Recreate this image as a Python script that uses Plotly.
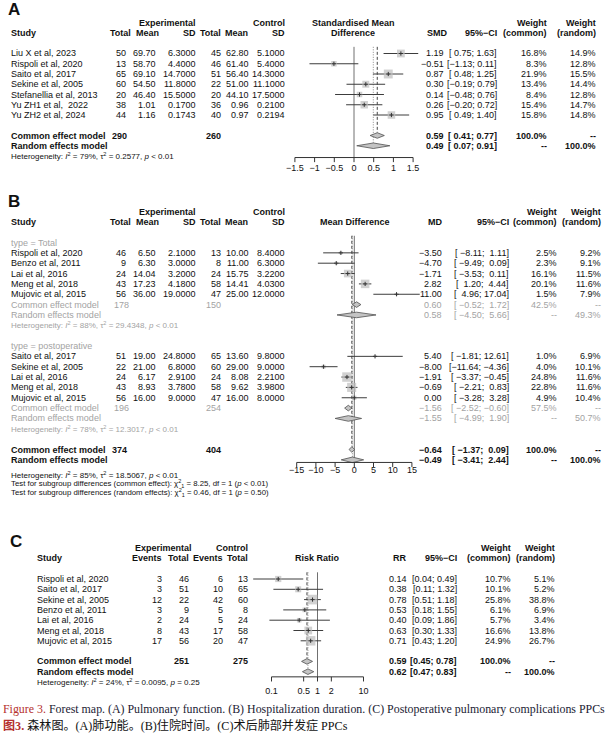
import math
import plotly.graph_objects as go

W, H = 611, 738
SANS = "Liberation Sans, Arial, Helvetica, sans-serif"
SERIF = "Liberation Serif, Times New Roman, Noto Sans CJK SC, serif"
GRAY = "#a3a3a3"
BLACK = "#111111"
MINUS = "\u2212"
NB = "\u00a0"

# ---------------- Panel A: pulmonary function (SMD) ----------------
A_studies = ["Liu X et al, 2023", "Rispoli et al, 2020", "Saito et al, 2017", "Sekine et al, 2005",
             "Stefanellia et al, 2013", "Yu ZH1 et al,  2022", "Yu ZH2 et al, 2024"]
A_n_e = [50, 13, 65, 60, 20, 38, 44]
A_mean_e = [69.70, 58.70, 69.10, 54.50, 46.40, 1.01, 1.16]
A_sd_e = [6.3000, 4.4000, 14.7000, 11.8000, 15.5000, 0.1700, 0.1743]
A_n_c = [45, 46, 51, 22, 20, 36, 40]
A_mean_c = [62.80, 61.40, 56.40, 51.00, 44.10, 0.96, 0.97]
A_sd_c = [5.1000, 5.4000, 14.3000, 11.1000, 17.5000, 0.2100, 0.2194]
A_est = [1.19, -0.51, 0.87, 0.30, 0.14, 0.26, 0.95]
A_lo = [0.75, -1.13, 0.48, -0.19, -0.48, -0.20, 0.49]
A_hi = [1.63, 0.11, 1.25, 0.79, 0.76, 0.72, 1.40]
A_wc = [16.8, 8.3, 21.9, 13.4, 8.4, 15.4, 15.8]
A_wr = [14.9, 12.8, 15.5, 14.4, 12.8, 14.7, 14.8]
A_common = [0.59, 0.41, 0.77]
A_random = [0.49, 0.07, 0.91]
A_totals = [290, 260]
A_het = ["79%", "0.2577", "&lt; 0.01"]
A_ticks = [-1.5, -1, -0.5, 0, 0.5, 1, 1.5]
A_ticklabels = ["\u22121.5", "\u22121", "\u22120.5", "0", "0.5", "1", "1.5"]

# ---------------- Panel B: hospitalization duration (MD) ----------------
B_group_labels = ["type = Total", "type = postoperative"]
B1_studies = ["Rispoli et al, 2020", "Benzo et al, 2011", "Lai et al, 2016", "Meng et al, 2018", "Mujovic et al, 2015"]
B1_n_e = [46, 9, 24, 43, 56]
B1_mean_e = [6.50, 6.30, 14.04, 17.23, 36.00]
B1_sd_e = [2.1000, 3.0000, 3.2000, 4.1800, 19.0000]
B1_n_c = [13, 8, 24, 58, 47]
B1_mean_c = [10.00, 11.00, 15.75, 14.41, 25.00]
B1_sd_c = [8.4000, 6.3000, 3.2200, 4.0300, 12.0000]
B1_est = [-3.50, -4.70, -1.71, 2.82, 11.00]
B1_lo = [-8.11, -9.49, -3.53, 1.20, 4.96]
B1_hi = [1.11, 0.09, 0.11, 4.44, 17.04]
B1_wc = [2.5, 2.3, 16.1, 20.1, 1.5]
B1_wr = [9.2, 9.1, 11.5, 11.6, 7.9]
B1_common = [0.60, -0.52, 1.72]
B1_random = [0.58, -4.50, 5.66]
B1_wsum = [42.5, 49.3]
B1_totals = [178, 150]
B1_het = ["88%", "29.4348", "&lt; 0.01"]

B2_studies = ["Saito et al, 2017", "Sekine et al, 2005", "Lai et al, 2016", "Meng et al, 2018", "Mujovic et al, 2015"]
B2_n_e = [51, 22, 24, 43, 56]
B2_mean_e = [19.00, 21.00, 6.17, 8.93, 16.00]
B2_sd_e = [24.8000, 6.8000, 2.9100, 3.7800, 9.0000]
B2_n_c = [65, 60, 24, 58, 47]
B2_mean_c = [13.60, 29.00, 8.08, 9.62, 16.00]
B2_sd_c = [9.8000, 9.0000, 2.2100, 3.9800, 8.0000]
B2_est = [5.40, -8.00, -1.91, -0.69, 0.00]
B2_lo = [-1.81, -11.64, -3.37, -2.21, -3.28]
B2_hi = [12.61, -4.36, -0.45, 0.83, 3.28]
B2_wc = [1.0, 4.0, 24.8, 22.8, 4.9]
B2_wr = [6.9, 10.1, 11.6, 11.6, 10.4]
B2_common = [-1.56, -2.52, -0.60]
B2_random = [-1.55, -4.99, 1.90]
B2_wsum = [57.5, 50.7]
B2_totals = [196, 254]
B2_het = ["78%", "12.3017", "&lt; 0.01"]

B_common = [-0.64, -1.37, 0.09]
B_random = [-0.49, -3.41, 2.44]
B_totals = [374, 404]
B_het = ["85%", "18.5067", "&lt; 0.01"]
B_test_common = ["8.25", "1", "&lt; 0.01"]
B_test_random = ["0.46", "1", "= 0.50"]
B_ticks = [-15, -10, -5, 0, 5, 10, 15]
B_ticklabels = ["\u221215", "\u221210", "\u22125", "0", "5", "10", "15"]

# ---------------- Panel C: postoperative pulmonary complications (RR) ----------------
C_studies = ["Rispoli et al, 2020", "Saito et al, 2017", "Sekine et al, 2005", "Benzo et al, 2011",
             "Lai et al, 2016", "Meng et al, 2018", "Mujovic et al, 2015"]
C_ev_e = [3, 3, 12, 3, 2, 8, 17]
C_n_e = [46, 51, 22, 9, 24, 43, 56]
C_ev_c = [6, 10, 42, 5, 5, 17, 20]
C_n_c = [13, 65, 60, 8, 24, 58, 47]
C_est = [0.14, 0.38, 0.78, 0.53, 0.40, 0.63, 0.71]
C_lo = [0.04, 0.11, 0.51, 0.18, 0.09, 0.30, 0.43]
C_hi = [0.49, 1.32, 1.18, 1.55, 1.86, 1.33, 1.20]
C_wc = [10.7, 10.1, 25.8, 6.1, 5.7, 16.6, 24.9]
C_wr = [5.1, 5.2, 38.8, 6.9, 3.4, 13.8, 26.7]
C_common = [0.59, 0.45, 0.78]
C_random = [0.62, 0.47, 0.83]
C_totals = [251, 275]
C_het = ["24%", "0.0095", "= 0.25"]
C_ticks = [0.1, 0.5, 1, 2, 10]
C_ticklabels = ["0.1", "0.5", "1", "2", "10"]

# ---------------- layout geometry (pixels) ----------------
GEO = {
    "A": dict(y0=53.5, dy=10.25, x0=354.0, sx=39.4, log=False),
    "B": dict(y0=242.5, dy=10.35, x0=354.3, sx=3.84, log=False),
    "C": dict(y0=579.0, dy=10.3, x0=317.5, sx=46.0, log=True),
}
AXES = {"A": ("x", "y"), "B": ("x2", "y2"), "C": ("x3", "y3")}

fig = go.Figure()
ann = []


def T(x, y, s, anchor="left", size=9, bold=False, color=BLACK, family=SANS):
    if bold:
        s = "<b>" + s + "</b>"
    ann.append(dict(x=x / W, y=1 - y / H, xref="paper", yref="paper", text=s, showarrow=False,
                    xanchor=anchor, yanchor="middle", borderpad=0,
                    font=dict(size=size, color=color, family=family)))


def ry(p, r):
    g = GEO[p]
    return g["y0"] + g["dy"] * r


def f(v, d):
    return f"{v:.{d}f}".replace("-", MINUS)


def ci_strings(los, his, d=2):
    ls = [f(v, d) for v in los]
    hs = [f(v, d) for v in his]
    wl = max(len(s) for s in ls)
    wh = max(len(s) for s in hs)
    return ["[" + NB * (wl - len(a)) + a + ";" + NB + NB * (wh - len(b)) + b + "]" for a, b in zip(ls, hs)]


def het_text(h):
    return ("Heterogeneity: <i>I</i><sup>2</sup> = " + h[0] + ", \u03c4<sup>2</sup> = " + h[1]
            + ", <i>p</i> " + h[2])


def add_forest(p, rows, est, lo, hi, w, diamonds, null, common_est, random_est, common_row, random_row,
               ticks, ticklabels, axis_row, label_row, top_row=-0.65):
    xa, ya = AXES[p]
    kw = dict(xaxis=xa, yaxis=ya, showlegend=False, hoverinfo="skip")
    # reference lines
    fig.add_trace(go.Scatter(x=[null, null], y=[top_row, axis_row], mode="lines",
                             line=dict(color="#707070", width=1), **kw))
    fig.add_trace(go.Scatter(x=[common_est, common_est], y=[top_row, common_row - 0.3], mode="lines",
                             line=dict(color="#444444", width=1, dash="3px,2px"), **kw))
    fig.add_trace(go.Scatter(x=[random_est, random_est], y=[top_row, random_row - 0.3], mode="lines",
                             line=dict(color="#8a8a8a", width=1, dash="1px,1.5px"), **kw))
    # confidence interval lines
    xs, ys = [], []
    for r, a, b in zip(rows, lo, hi):
        xs += [a, b, None]
        ys += [r, r, None]
    fig.add_trace(go.Scatter(x=xs, y=ys, mode="lines", line=dict(color="#3c3c3c", width=1), **kw))
    # weight squares
    fig.add_trace(go.Scatter(x=est, y=rows, mode="markers",
                             marker=dict(symbol="square", size=[1.9 * math.sqrt(v) for v in w],
                                         color="#bdbdbd", line=dict(width=0)), **kw))
    fig.add_trace(go.Scatter(x=est, y=rows, mode="markers",
                             marker=dict(symbol="cross-thin", size=3, line=dict(width=1, color="#333333")), **kw))
    # diamonds
    for (r, e, a, b) in diamonds:
        h = 0.27
        fig.add_trace(go.Scatter(x=[a, e, b, e, a], y=[r, r - h, r, r + h, r], mode="lines", fill="toself",
                                 fillcolor="#c4c4c4", line=dict(color="#505050", width=0.8), **kw))
    # axis
    fig.add_trace(go.Scatter(x=[ticks[0], ticks[-1]], y=[axis_row, axis_row], mode="lines",
                             line=dict(color="#333333", width=1), **kw))
    tx, ty = [], []
    for t in ticks:
        tx += [t, t, None]
        ty += [axis_row, axis_row + 0.45, None]
    fig.add_trace(go.Scatter(x=tx, y=ty, mode="lines", line=dict(color="#333333", width=1), **kw))
    fig.add_trace(go.Scatter(x=ticks, y=[label_row] * len(ticks), mode="text", text=ticklabels,
                             textposition="middle center", textfont=dict(size=9, family=SANS, color=BLACK),
                             **kw))


# ================= Panel A =================
T(7, 10, "A", size=17, bold=True)
T(167, 23, "Experimental", "center", bold=True)
T(286, 23, "Control", "right", bold=True)
T(353, 23, "Standardised Mean", "center", bold=True)
T(548, 23, "Weight", "right", bold=True)
T(597, 23, "Weight", "right", bold=True)
hy = 33.5
T(10, hy, "Study", bold=True)
for x, s in [(132, "Total"), (160, "Mean"), (197, "SD"), (222, "Total"), (249, "Mean"), (286, "SD"),
             (449, "SMD"), (498, "95%\u2212CI"), (548, "(common)"), (597, "(random)")]:
    T(x, hy, s, "right", bold=True)
T(353, hy, "Difference", "center", bold=True)

A_rows = list(range(len(A_studies)))
A_ci = ci_strings(A_lo + [A_common[1], A_random[1]], A_hi + [A_common[2], A_random[2]])
for i, r in enumerate(A_rows):
    y = ry("A", r)
    T(10, y, A_studies[i])
    T(127, y, str(A_n_e[i]), "right")
    T(157, y, f(A_mean_e[i], 2), "right")
    T(197, y, f(A_sd_e[i], 4), "right")
    T(222, y, str(A_n_c[i]), "right")
    T(250, y, f(A_mean_c[i], 2), "right")
    T(286, y, f(A_sd_c[i], 4), "right")
    T(445, y, f(A_est[i], 2), "right")
    T(498, y, A_ci[i], "right")
    T(548, y, f(A_wc[i], 1) + "%", "right")
    T(597, y, f(A_wr[i], 1) + "%", "right")
yc, yr = ry("A", 8), ry("A", 9)
T(10, yc, "Common effect model", bold=True)
T(128, yc, str(A_totals[0]), "right", bold=True)
T(222, yc, str(A_totals[1]), "right", bold=True)
T(445, yc, f(A_common[0], 2), "right", bold=True)
T(498, yc, A_ci[-2], "right", bold=True)
T(548, yc, "100.0%", "right", bold=True)
T(597, yc, "--", "right", bold=True)
T(10, yr, "Random effects model", bold=True)
T(445, yr, f(A_random[0], 2), "right", bold=True)
T(498, yr, A_ci[-1], "right", bold=True)
T(548, yr, "--", "right", bold=True)
T(597, yr, "100.0%", "right", bold=True)
T(10, ry("A", 10), het_text(A_het), size=8)

add_forest("A", A_rows, A_est, A_lo, A_hi, A_wc,
           [(8, A_common[0], A_common[1], A_common[2]), (9, A_random[0], A_random[1], A_random[2])],
           0, A_common[0], A_random[0], 8, 9, A_ticks, A_ticklabels, axis_row=10.15, label_row=11.2)

# ================= Panel B =================
T(7, 201, "B", size=17, bold=True)
T(167, 211.5, "Experimental", "center", bold=True)
T(286, 211.5, "Control", "right", bold=True)
T(558, 211.5, "Weight", "right", bold=True)
T(602, 211.5, "Weight", "right", bold=True)
hy = 221.5
T(10, hy, "Study", bold=True)
for x, s in [(132, "Total"), (160, "Mean"), (197, "SD"), (222, "Total"), (249, "Mean"), (286, "SD"),
             (443, "MD"), (510, "95%\u2212CI"), (558, "(common)"), (602, "(random)")]:
    T(x, hy, s, "right", bold=True)
T(355, hy, "Mean Difference", "center", bold=True)

B_all_lo = B1_lo + B2_lo + [B1_common[1], B1_random[1], B2_common[1], B2_random[1], B_common[1], B_random[1]]
B_all_hi = B1_hi + B2_hi + [B1_common[2], B1_random[2], B2_common[2], B2_random[2], B_common[2], B_random[2]]
B_ci = ci_strings(B_all_lo, B_all_hi)
B_ci_study = B_ci[:10]
B1_ci_sum, B2_ci_sum, B_ci_sum = B_ci[10:12], B_ci[12:14], B_ci[14:16]

B_groups = [
    (0, B_group_labels[0], B1_studies, B1_n_e, B1_mean_e, B1_sd_e, B1_n_c, B1_mean_c, B1_sd_c, B1_est,
     B_ci_study[:5], B1_wc, B1_wr, B1_common, B1_random, B1_ci_sum, B1_wsum, B1_totals, B1_het),
    (10, B_group_labels[1], B2_studies, B2_n_e, B2_mean_e, B2_sd_e, B2_n_c, B2_mean_c, B2_sd_c, B2_est,
     B_ci_study[5:], B2_wc, B2_wr, B2_common, B2_random, B2_ci_sum, B2_wsum, B2_totals, B2_het),
]
B_rows_all, B_diamonds = [], []
for (g0, lab, st, ne, me, se, nc, mc, sc, es, cis, wc, wr, cm, rm, cs, ws, tots, het) in B_groups:
    T(10, ry("B", g0), lab, color=GRAY)
    for i in range(len(st)):
        r = g0 + 1 + i
        B_rows_all.append(r)
        y = ry("B", r)
        T(10, y, st[i])
        T(127, y, str(ne[i]), "right")
        T(157, y, f(me[i], 2), "right")
        T(197, y, f(se[i], 4), "right")
        T(222, y, str(nc[i]), "right")
        T(250, y, f(mc[i], 2), "right")
        T(286, y, f(sc[i], 4), "right")
        T(443, y, f(es[i], 2), "right")
        T(510, y, cis[i], "right")
        T(558, y, f(wc[i], 1) + "%", "right")
        T(602, y, f(wr[i], 1) + "%", "right")
    rc, rr = g0 + 1 + len(st), g0 + 2 + len(st)
    yc, yr = ry("B", rc), ry("B", rr)
    T(10, yc, "Common effect model", color=GRAY)
    T(130, yc, str(tots[0]), "right", color=GRAY)
    T(222, yc, str(tots[1]), "right", color=GRAY)
    T(443, yc, f(cm[0], 2), "right", color=GRAY)
    T(510, yc, cs[0], "right", color=GRAY)
    T(558, yc, f(ws[0], 1) + "%", "right", color=GRAY)
    T(602, yc, "--", "right", color=GRAY)
    T(10, yr, "Random effects model", color=GRAY)
    T(443, yr, f(rm[0], 2), "right", color=GRAY)
    T(510, yr, cs[1], "right", color=GRAY)
    T(558, yr, "--", "right", color=GRAY)
    T(602, yr, f(ws[1], 1) + "%", "right", color=GRAY)
    T(10, ry("B", rr + 1), het_text(het), size=8, color=GRAY)
    B_diamonds += [(rc, cm[0], cm[1], cm[2]), (rr, rm[0], rm[1], rm[2])]

yc, yr = ry("B", 20), ry("B", 21)
T(10, yc, "Common effect model", bold=True)
T(128, yc, str(B_totals[0]), "right", bold=True)
T(222, yc, str(B_totals[1]), "right", bold=True)
T(443, yc, f(B_common[0], 2), "right", bold=True)
T(510, yc, B_ci_sum[0], "right", bold=True)
T(558, yc, "100.0%", "right", bold=True)
T(602, yc, "--", "right", bold=True)
T(10, yr, "Random effects model", bold=True)
T(443, yr, f(B_random[0], 2), "right", bold=True)
T(510, yr, B_ci_sum[1], "right", bold=True)
T(558, yr, "--", "right", bold=True)
T(602, yr, "100.0%", "right", bold=True)
T(10, 474.5, het_text(B_het), size=8)
T(10, 483.5, "Test for subgroup differences (common effect): \u03c7<sup>2</sup><sub>" + B_test_common[1]
  + "</sub> = " + B_test_common[0] + ", df = " + B_test_common[1] + " (<i>p</i> " + B_test_common[2] + ")", size=7.8)
T(10, 492, "Test for subgroup differences (random effects): \u03c7<sup>2</sup><sub>" + B_test_random[1]
  + "</sub> = " + B_test_random[0] + ", df = " + B_test_random[1] + " (<i>p</i> " + B_test_random[2] + ")", size=7.8)
B_diamonds += [(20, B_common[0], B_common[1], B_common[2]), (21, B_random[0], B_random[1], B_random[2])]

add_forest("B", B_rows_all, B1_est + B2_est, B1_lo + B2_lo, B1_hi + B2_hi, B1_wc + B2_wc, B_diamonds,
           0, B_common[0], B_random[0], 20, 21, B_ticks, B_ticklabels, axis_row=21.25, label_row=22.05)

# ================= Panel C =================
T(9, 541, "C", size=17, bold=True)
T(163.5, 547.5, "Experimental", "center", bold=True)
T(249, 547.5, "Control", "right", bold=True)
T(512, 547.5, "Weight", "right", bold=True)
T(556, 547.5, "Weight", "right", bold=True)
hy = 558
T(36, hy, "Study", bold=True)
for x, s in [(163, "Events"), (190, "Total"), (224, "Events"), (249, "Total"),
             (408, "RR"), (458, "95%\u2212CI"), (512, "(common)"), (556, "(random)")]:
    T(x, hy, s, "right", bold=True)
T(317, hy, "Risk Ratio", "center", bold=True)

C_rows = list(range(len(C_studies)))
C_ci = ci_strings(C_lo + [C_common[1], C_random[1]], C_hi + [C_common[2], C_random[2]])
for i, r in enumerate(C_rows):
    y = ry("C", r)
    T(36, y, C_studies[i])
    T(163, y, str(C_ev_e[i]), "right")
    T(190, y, str(C_n_e[i]), "right")
    T(224, y, str(C_ev_c[i]), "right")
    T(249, y, str(C_n_c[i]), "right")
    T(408, y, f(C_est[i], 2), "right")
    T(458, y, C_ci[i], "right")
    T(512, y, f(C_wc[i], 1) + "%", "right")
    T(556, y, f(C_wr[i], 1) + "%", "right")
yc, yr = ry("C", 8), ry("C", 9)
T(36, yc, "Common effect model", bold=True)
T(190, yc, str(C_totals[0]), "right", bold=True)
T(249, yc, str(C_totals[1]), "right", bold=True)
T(408, yc, f(C_common[0], 2), "right", bold=True)
T(458, yc, C_ci[-2], "right", bold=True)
T(512, yc, "100.0%", "right", bold=True)
T(556, yc, "--", "right", bold=True)
T(36, yr, "Random effects model", bold=True)
T(408, yr, f(C_random[0], 2), "right", bold=True)
T(458, yr, C_ci[-1], "right", bold=True)
T(512, yr, "--", "right", bold=True)
T(556, yr, "100.0%", "right", bold=True)
T(36, ry("C", 10), het_text(C_het), size=8)

add_forest("C", C_rows, C_est, C_lo, C_hi, C_wc,
           [(8, C_common[0], C_common[1], C_common[2]), (9, C_random[0], C_random[1], C_random[2])],
           1, C_common[0], C_random[0], 8, 9, C_ticks, C_ticklabels, axis_row=9.5, label_row=10.95)

# ================= Caption =================
RED = "#b5302e"
T(2, 709, '<span style="color:' + RED + '">Figure 3.</span> Forest map. (A) Pulmonary function. '
  '(B) Hospitalization duration. (C) Postoperative pulmonary complications PPCs',
  size=11.9, color="#1b1b33", family=SERIF)
T(2, 725, '<span style="color:' + RED + '"><b>\u56fe3.</b></span> \u68ee\u6797\u56fe\u3002(A)\u80ba\u529f\u80fd\u3002'
  '(B)\u4f4f\u9662\u65f6\u95f4\u3002(C)\u672f\u540e\u80ba\u90e8\u5e76\u53d1\u75c7 PPCs',
  size=12.1, color="#111111", family=SERIF)

# ================= axes =================
layout_axes = {}
for p, (xa, ya) in AXES.items():
    g = GEO[p]
    xr = [(0 - g["x0"]) / g["sx"], (W - g["x0"]) / g["sx"]]
    yr_ = [(H - g["y0"]) / g["dy"], (0 - g["y0"]) / g["dy"]]
    xname = "xaxis" if xa == "x" else "xaxis" + xa[1:]
    yname = "yaxis" if ya == "y" else "yaxis" + ya[1:]
    layout_axes[xname] = dict(domain=[0, 1], range=xr, visible=False, fixedrange=True,
                              type="log" if g["log"] else "linear", anchor=ya)
    layout_axes[yname] = dict(domain=[0, 1], range=yr_, visible=False, fixedrange=True, anchor=xa)

fig.update_layout(width=W, height=H, margin=dict(l=0, r=0, t=0, b=0, pad=0),
                  paper_bgcolor="white", plot_bgcolor="rgba(0,0,0,0)", showlegend=False,
                  hovermode=False, annotations=ann, **layout_axes)
fig.write_html("out.html", config={"displayModeBar": False, "staticPlot": True},
               post_script="document.body.style.margin='0px';document.body.style.padding='0px';")
